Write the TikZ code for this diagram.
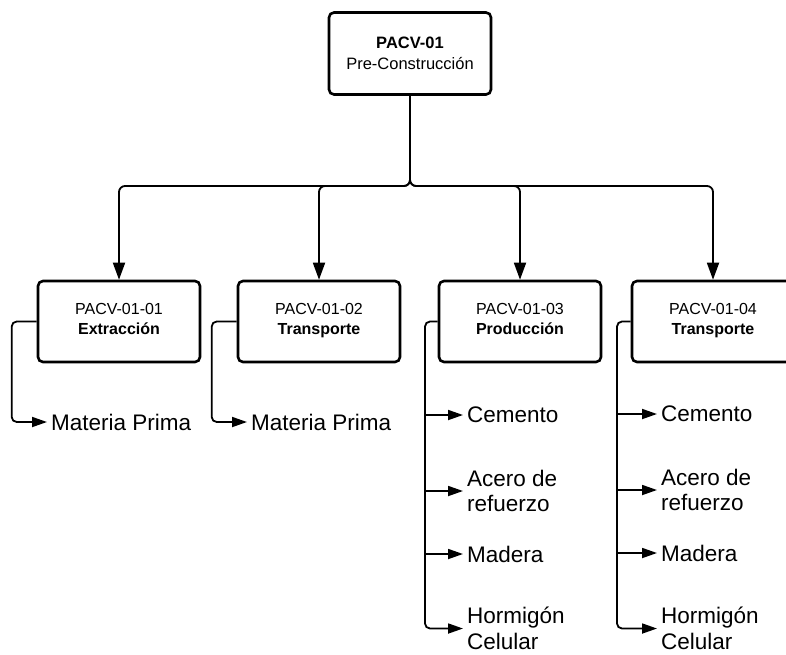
\documentclass[tikz,border=0pt]{standalone}
\usepackage{fontspec}
\setmainfont{Liberation Sans}
\usetikzlibrary{arrows.meta}
\begin{document}
\begin{tikzpicture}[x=1pt,y=-1pt,
  topbox/.style={draw, line width=2.6pt, rounded corners=5pt, minimum width=162pt, minimum height=82pt, align=center, font=\fontsize{16.5}{20.5}\selectfont, inner sep=0pt},
  subbox/.style={draw, line width=2.6pt, rounded corners=5pt, minimum width=162pt, minimum height=81pt, align=center, font=\fontsize{16}{20}\selectfont, inner sep=0pt, text depth=6pt},
  leaf/.style={anchor=west, align=left, inner xsep=4pt, inner ysep=0pt, font=\fontsize{22.5}{25.5}\selectfont},
  down/.style={line width=1.8pt, rounded corners=6pt, -{Triangle[length=17pt,width=12pt]}},
  side/.style={line width=1.8pt, rounded corners=5pt, -{Triangle[length=15pt,width=10pt]}}
]
\useasboundingbox (0,0) rectangle (786,654);
\clip (0,0) rectangle (786,654);

% root
\node[topbox] (top) at (410,53.5) {\textbf{PACV-01}\\Pre-Construcción};

% second level
\node[subbox] (c1) at (119,321.5) {PACV-01-01\\\textbf{Extracción}};
\node[subbox] (c2) at (319,321.5) {PACV-01-02\\\textbf{Transporte}};
\node[subbox] (c3) at (520,321.5) {PACV-01-03\\\textbf{Producción}};
\node[subbox] (c4) at (713,321.5) {PACV-01-04\\\textbf{Transporte}};

% tree connectors
\coordinate (bus) at (410,186);
\foreach \c in {c1,c2,c3,c4}
  \draw[down] (top.south) -- (bus) -| (\c.north);

% leaves
\node[leaf] (m1) at (47,422) {Materia Prima};
\node[leaf] (m2) at (247,422) {Materia Prima};

\node[leaf] (ce3) at (463,415) {Cemento};
\node[leaf] (ac3) at (463,491) {Acero de\\refuerzo};
\node[leaf] (ma3) at (463,554) {Madera};
\node[leaf] (ho3) at (463,628.5) {Hormigón\\Celular};

\node[leaf] (ce4) at (657,414) {Cemento};
\node[leaf] (ac4) at (657,490) {Acero de\\refuerzo};
\node[leaf] (ma4) at (657,553) {Madera};
\node[leaf] (ho4) at (657,628.5) {Hormigón\\Celular};

% leaf connectors
\draw[side] (c1.west) -- ++(-25,0) |- (m1.west);
\draw[side] (c2.west) -- ++(-25,0) |- (m2.west);

\coordinate (v3) at (425,321.5);
\draw[side] (c3.west) -- (v3) |- (ho3.west);
\draw[side] (v3 |- ce3.west) -- (ce3.west);
\draw[side] (v3 |- ac3.west) -- (ac3.west);
\draw[side] (v3 |- ma3.west) -- (ma3.west);

\coordinate (v4) at (617,321.5);
\draw[side] (c4.west) -- (v4) |- (ho4.west);
\draw[side] (v4 |- ce4.west) -- (ce4.west);
\draw[side] (v4 |- ac4.west) -- (ac4.west);
\draw[side] (v4 |- ma4.west) -- (ma4.west);
\end{tikzpicture}
\end{document}
